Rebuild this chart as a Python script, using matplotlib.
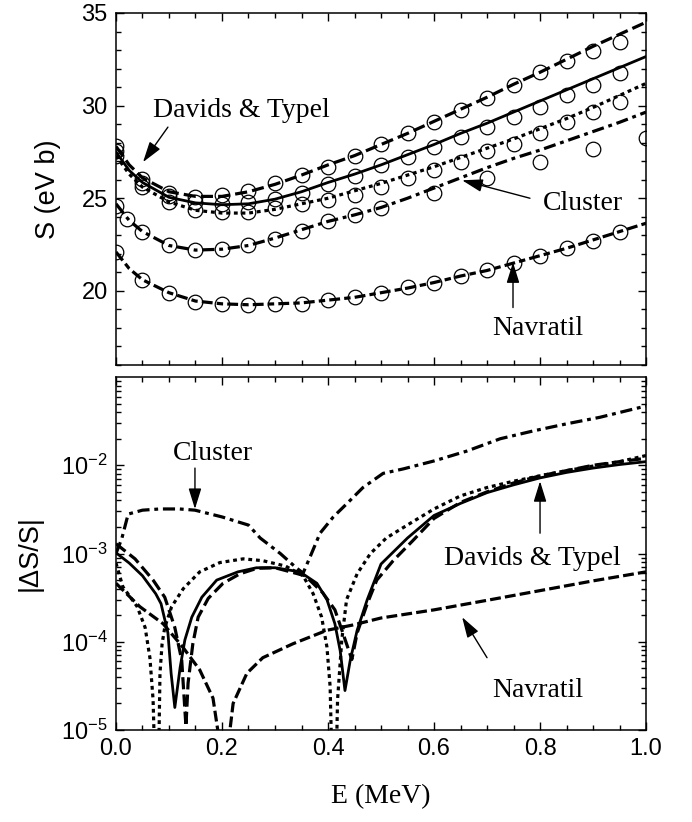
import numpy as np
import matplotlib
matplotlib.use("Agg")
import matplotlib.pyplot as plt
from matplotlib.ticker import MultipleLocator, LogLocator, NullFormatter

plt.rcParams['font.family'] = ['Liberation Sans', 'DejaVu Sans']
plt.rcParams['mathtext.fontset'] = 'custom'
plt.rcParams['mathtext.rm'] = 'Liberation Sans'
plt.rcParams['mathtext.it'] = 'Liberation Sans:italic'
plt.rcParams['mathtext.default'] = 'regular'

# ---------------- top panel data: S-factor (eV b) ----------------
E_line = [0, 0.025, 0.05, 0.1, 0.15, 0.2, 0.25, 0.3, 0.35, 0.4, 0.45, 0.5,
          0.55, 0.6, 0.65, 0.7, 0.75, 0.8, 0.85, 0.9, 0.95, 1.0]
S_dashed = [27.8, 26.8, 26.1, 25.35, 25.1, 25.1, 25.35, 25.75, 26.25, 26.8, 27.3, 27.9,
            28.5, 29.15, 29.8, 30.45, 31.15, 31.8, 32.5, 33.2, 33.85, 34.5]
S_solid = [27.5, 26.5, 25.85, 25.05, 24.75, 24.65, 24.7, 24.95, 25.35, 25.85, 26.3, 26.8,
           27.35, 27.9, 28.5, 29.05, 29.65, 30.25, 30.85, 31.45, 32.05, 32.65]
S_dotted = [27.3, 26.3, 25.6, 24.8, 24.35, 24.2, 24.2, 24.4, 24.7, 25.0, 25.4, 25.8,
            26.25, 26.7, 27.2, 27.7, 28.2, 28.75, 29.3, 29.9, 30.55, 31.2]
S_cluster = [24.7, 23.8, 23.2, 22.45, 22.2, 22.25, 22.45, 22.85, 23.3, 23.75, 24.1, 24.5,
             25.0, 25.55, 26.1, 26.65, 27.15, 27.6, 28.1, 28.6, 29.1, 29.65]
S_navratil = [22.1, 21.2, 20.6, 19.9, 19.45, 19.3, 19.25, 19.3, 19.35, 19.5, 19.65, 19.9,
              20.15, 20.45, 20.8, 21.1, 21.5, 21.9, 22.3, 22.75, 23.2, 23.65]

E_pts = [0, 0.05, 0.1, 0.15, 0.2, 0.25, 0.3, 0.35, 0.4, 0.45, 0.5, 0.55, 0.6, 0.65,
         0.7, 0.75, 0.8, 0.85, 0.9, 0.95]
P_dashed = [27.8, 26.05, 25.3, 25.05, 25.15, 25.4, 25.8, 26.25, 26.7, 27.3, 27.95, 28.5,
            29.1, 29.75, 30.4, 31.1, 31.8, 32.4, 32.95, 33.45]
P_solid = [27.55, 25.8, 25.1, 24.8, 24.7, 24.8, 24.95, 25.3, 25.75, 26.2, 26.8, 27.2,
           27.75, 28.3, 28.85, 29.4, 29.9, 30.55, 31.1, 31.75]
P_dotted = [27.3, 25.6, 24.8, 24.35, 24.25, 24.25, 24.45, 24.7, 24.9, 25.15, 25.6, 26.1,
            26.5, 26.95, 27.55, 27.95, 28.5, 29.1, 29.65, 30.2]
P_navratil = [22.1, 20.6, 19.9, 19.4, 19.3, 19.25, 19.3, 19.3, 19.5, 19.65, 19.9, 20.2,
              20.4, 20.8, 21.1, 21.5, 21.9, 22.3, 22.7, 23.2]
E_cl_pts = [0, 0.02, 0.05, 0.1, 0.15, 0.2, 0.25, 0.3, 0.35, 0.4, 0.45, 0.5, 0.6, 0.7, 0.8, 0.9, 1.0]
P_cluster = [24.6, 23.9, 23.2, 22.45, 22.2, 22.25, 22.45, 22.8, 23.25, 23.75, 24.1, 24.45,
             25.3, 26.1, 26.95, 27.65, 28.25]

# ---------------- bottom panel data: |dS/S| ----------------
E_d_solid = [0, 0.025, 0.05, 0.075, 0.085, 0.098, 0.104, 0.111, 0.121, 0.13, 0.143, 0.162,
             0.19, 0.23, 0.265, 0.3, 0.347, 0.379, 0.398, 0.413, 0.423, 0.432, 0.442, 0.455,
             0.474, 0.5, 0.55, 0.6, 0.65, 0.7, 0.75, 0.8, 0.85, 0.9, 0.95, 1.0]
D_solid = [1.02e-3, 7.8e-4, 5.6e-4, 3.5e-4, 2.7e-4, 1.26e-4, 4.4e-5, 1.8e-5, 5.1e-5, 1.05e-4,
           1.9e-4, 3.2e-4, 5.0e-4, 6.2e-4, 6.9e-4, 6.9e-4, 6.2e-4, 4.6e-4, 3.0e-4, 1.6e-4,
           7.9e-5, 2.8e-5, 6.2e-5, 1.35e-4, 3.0e-4, 7.6e-4, 1.5e-3, 2.7e-3, 3.7e-3, 4.9e-3,
           6.0e-3, 7.2e-3, 8.3e-3, 9.3e-3, 1.02e-2, 1.1e-2]

E_d_dash = [0, 0.036, 0.07, 0.092, 0.111, 0.124, 0.132, 0.136, 0.145, 0.155, 0.174, 0.202,
            0.234, 0.266, 0.3, 0.357, 0.39, 0.413, 0.428, 0.445, 0.455, 0.474, 0.492, 0.523,
            0.56, 0.6, 0.65, 0.7, 0.75, 0.8, 0.85, 0.9, 0.95, 1.0]
D_dash = [1.29e-3, 8.7e-4, 5.0e-4, 3.2e-4, 1.45e-4, 6.2e-5, 1.1e-5, 3.4e-5, 9.5e-5, 1.9e-4,
          3.1e-4, 4.6e-4, 5.9e-4, 6.8e-4, 6.9e-4, 5.6e-4, 3.6e-4, 2.3e-4, 1.26e-4, 6.3e-5,
          1.26e-4, 2.7e-4, 5.0e-4, 8.3e-4, 1.4e-3, 2.5e-3, 3.8e-3, 5.0e-3, 6.3e-3, 7.6e-3,
          8.7e-3, 1.0e-2, 1.1e-2, 1.2e-2]

E_d_dot = [0, 0.013, 0.04, 0.055, 0.064, 0.07, 0.074, 0.08, 0.083, 0.087, 0.092, 0.105,
           0.127, 0.158, 0.196, 0.24, 0.277, 0.32, 0.353, 0.372, 0.388, 0.398, 0.404, 0.408,
           0.415, 0.418, 0.426, 0.435, 0.455, 0.48, 0.51, 0.555, 0.6, 0.65, 0.7, 0.75, 0.8,
           0.85, 0.9, 0.95, 1.0]
D_dot = [7.8e-4, 4.2e-4, 2.5e-4, 1.45e-4, 6.6e-5, 2.2e-5, 3e-6, 3e-6, 4.4e-5, 9.5e-5,
         1.45e-4, 2.5e-4, 4.0e-4, 6.2e-4, 7.9e-4, 8.7e-4, 8.3e-4, 7.2e-4, 5.6e-4, 3.5e-4,
         1.9e-4, 8.7e-5, 3.1e-5, 3e-6, 3e-6, 2.2e-5, 1.05e-4, 3.0e-4, 5.9e-4, 1.0e-3,
         1.5e-3, 2.2e-3, 3.2e-3, 4.5e-3, 5.6e-3, 6.6e-3, 7.6e-3, 8.7e-3, 9.8e-3, 1.1e-2, 1.29e-2]

E_d_cluster = [0, 0.011, 0.023, 0.05, 0.083, 0.12, 0.149, 0.2, 0.25, 0.272, 0.31, 0.34,
               0.353, 0.366, 0.385, 0.41, 0.436, 0.466, 0.504, 0.542, 0.6, 0.662, 0.725,
               0.787, 0.85, 0.913, 1.0]
D_cluster = [1.0e-3, 1.48e-3, 2.8e-3, 3.1e-3, 3.2e-3, 3.2e-3, 3.1e-3, 2.6e-3, 2.1e-3, 1.5e-3,
             1.0e-3, 6.9e-4, 6.0e-4, 9.1e-4, 1.7e-3, 2.6e-3, 3.7e-3, 5.6e-3, 8.1e-3, 9.1e-3,
             1.12e-2, 1.45e-2, 2.0e-2, 2.45e-2, 2.95e-2, 3.5e-2, 4.7e-2]

E_d_navratil = [0, 0.045, 0.089, 0.126, 0.158, 0.183, 0.192, 0.2, 0.21, 0.215, 0.221, 0.247,
                0.277, 0.334, 0.398, 0.447, 0.5, 0.6, 0.7, 0.8, 0.9, 1.0]
D_navratil = [4.6e-4, 2.5e-4, 1.6e-4, 8.7e-5, 4.8e-5, 2.3e-5, 1.0e-5, 3e-6, 3e-6, 1.0e-5,
              2.0e-5, 4.4e-5, 6.6e-5, 9.5e-5, 1.35e-4, 1.55e-4, 1.86e-4, 2.3e-4, 2.95e-4,
              3.8e-4, 4.9e-4, 6.2e-4]

x_ticks = [0.0, 0.2, 0.4, 0.6, 0.8, 1.0]
x_ticklabels = ['0.0', '0.2', '0.4', '0.6', '0.8', '1.0']

# ---------------- styles ----------------
LW = 2.3
st_dashed = dict(color='k', lw=LW, dashes=(3.8, 1.6))
st_solid = dict(color='k', lw=2.0, ls='-')
st_dotted = dict(color='k', lw=LW, dashes=(1.2, 1.2))
st_cluster = dict(color='k', lw=LW, dashes=(3.8, 1.5, 1.2, 1.5))
st_nav = dict(color='k', lw=LW, dashes=(3.4, 1.3, 2.0, 1.3))
st_nav_b = dict(color='k', lw=LW, dashes=(3.4, 1.3))
mk = dict(ls='none', marker='o', ms=10.5, mfc='none', mec='k', mew=0.9)

fig = plt.figure(figsize=(6.92, 8.22), dpi=100)
ax1 = fig.add_axes([0.1676, 0.5560, 0.766, 0.4282])
ax2 = fig.add_axes([0.1676, 0.1119, 0.766, 0.4294])

TICKFS = 17
SERIF = ['Liberation Serif', 'DejaVu Serif']

def style_axes(ax):
    ax.tick_params(which='both', direction='in', top=True, right=True, width=1.0,
                   labelsize=TICKFS, pad=6)
    ax.tick_params(which='major', length=6)
    ax.tick_params(which='minor', length=3.5)
    for s in ax.spines.values():
        s.set_linewidth(1.1)

# ---- top panel ----
ax1.plot(E_line, S_dashed, **st_dashed)
ax1.plot(E_line, S_solid, **st_solid)
ax1.plot(E_line, S_dotted, **st_dotted)
ax1.plot(E_line, S_cluster, **st_cluster)
ax1.plot(E_line, S_navratil, **st_nav)
ax1.plot(E_pts, P_dashed, **mk)
ax1.plot(E_pts, P_solid, **mk)
ax1.plot(E_pts, P_dotted, **mk)
ax1.plot(E_pts, P_navratil, **mk)
ax1.plot(E_cl_pts, P_cluster, **mk)
ax1.set_xlim(0, 1.0)
ax1.set_ylim(16, 35)
ax1.xaxis.set_major_locator(MultipleLocator(0.2))
ax1.xaxis.set_minor_locator(MultipleLocator(0.05))
ax1.yaxis.set_major_locator(MultipleLocator(5))
ax1.yaxis.set_minor_locator(MultipleLocator(1))
style_axes(ax1)
ax1.tick_params(labelbottom=False)
ax1.set_yticks([20, 25, 30, 35])
ax1.set_yticklabels(['20', '25', '30', '35'])
ax1.text(-0.128, 0.5, 'S (eV b)', transform=ax1.transAxes, rotation=90,
         ha='center', va='center', fontsize=19.5)

arrow_kw = dict(arrowstyle='-|>,head_length=0.9,head_width=0.28', color='k', lw=1.0,
                shrinkA=0, shrinkB=0, mutation_scale=14)
ax1.text(0.236, 29.76, 'Davids & Typel', family=SERIF, fontsize=20, ha='center', va='center')
ax1.annotate('', xy=(0.051, 26.95), xytext=(0.098, 28.84), arrowprops=arrow_kw)
ax1.text(0.881, 24.73, 'Cluster', family=SERIF, fontsize=20, ha='center', va='center')
ax1.annotate('', xy=(0.653, 25.97), xytext=(0.781, 25.0), arrowprops=arrow_kw)
ax1.text(0.796, 17.97, 'Navratil', family=SERIF, fontsize=20, ha='center', va='center')
ax1.annotate('', xy=(0.749, 21.54), xytext=(0.749, 19.1), arrowprops=arrow_kw)

# ---- bottom panel ----
ax2.set_yscale('log')
ax2.plot(E_d_solid, D_solid, **st_solid)
ax2.plot(E_d_dash, D_dash, **st_dashed)
ax2.plot(E_d_dot, D_dot, **st_dotted)
ax2.plot(E_d_cluster, D_cluster, **st_cluster)
ax2.plot(E_d_navratil, D_navratil, **st_nav_b)
ax2.set_xlim(0, 1.0)
ax2.set_ylim(1e-5, 1e-1)
ax2.xaxis.set_major_locator(MultipleLocator(0.2))
ax2.xaxis.set_minor_locator(MultipleLocator(0.05))
ax2.yaxis.set_major_locator(LogLocator(base=10, numticks=10))
ax2.yaxis.set_minor_locator(LogLocator(base=10, subs=np.arange(2, 10), numticks=20))
ax2.yaxis.set_minor_formatter(NullFormatter())
style_axes(ax2)
ax2.set_yticks([1e-5, 1e-4, 1e-3, 1e-2])
ax2.set_yticklabels([r'$10^{-5}$', r'$10^{-4}$', r'$10^{-3}$', r'$10^{-2}$'])
ax2.set_xticks(x_ticks)
ax2.set_xticklabels(x_ticklabels)
ax2.text(-0.162, 0.5, '|ΔS/S|', transform=ax2.transAxes, rotation=90,
         ha='center', va='center', fontsize=19.5)
ax2.text(0.5, -0.19, 'E (MeV)', transform=ax2.transAxes, ha='center', va='center',
         family=SERIF, fontsize=20)

ax2.text(0.183, 1.35e-2, 'Cluster', family=SERIF, fontsize=20, ha='center', va='center')
ax2.annotate('', xy=(0.149, 3.2e-3), xytext=(0.149, 9.3e-3), arrowprops=arrow_kw)
ax2.text(0.785, 8.7e-4, 'Davids & Typel', family=SERIF, fontsize=20, ha='center', va='center')
ax2.annotate('', xy=(0.8, 6.6e-3), xytext=(0.8, 1.7e-3), arrowprops=arrow_kw)
ax2.text(0.796, 2.8e-5, 'Navratil', family=SERIF, fontsize=20, ha='center', va='center')
ax2.annotate('', xy=(0.653, 1.9e-4), xytext=(0.70, 6.6e-5), arrowprops=arrow_kw)

fig.savefig('out.png', dpi=100)
